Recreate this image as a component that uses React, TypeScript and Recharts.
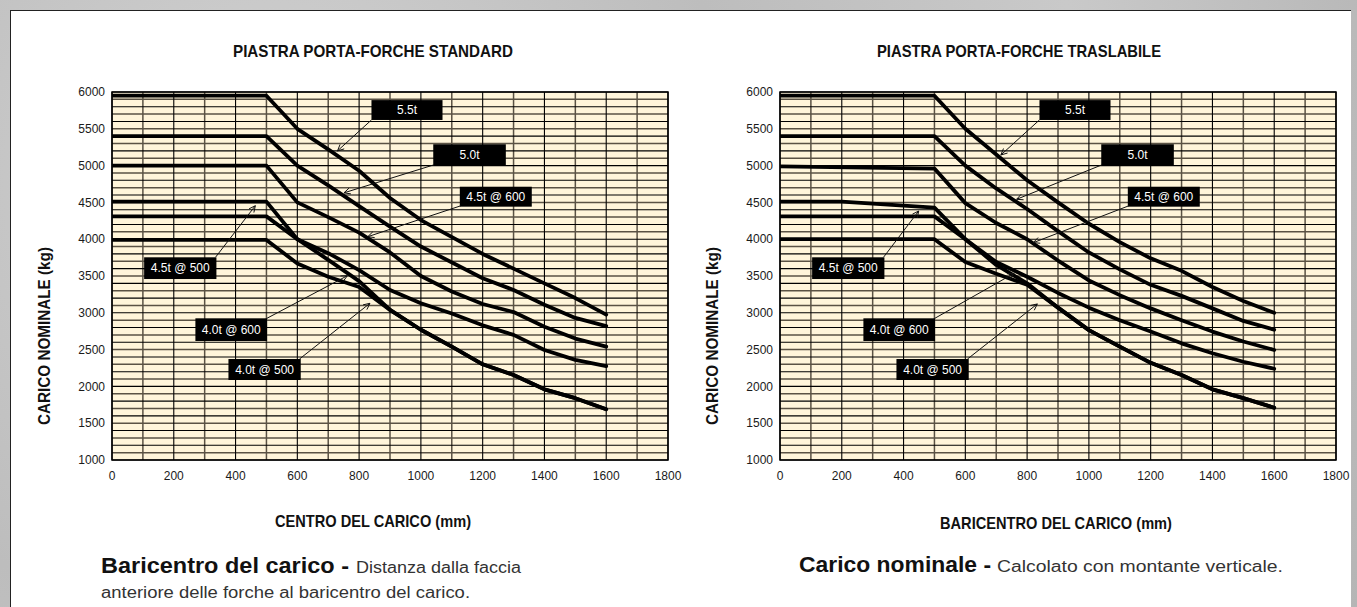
import React from 'react';
import { LineChart, Line, XAxis, YAxis, CartesianGrid, ReferenceArea, ReferenceLine } from 'recharts';

type Pt = { mm: number; kg: number };
const pts = (a: number[][]): Pt[] => a.map(([mm, kg]) => ({ mm, kg }));

// ---- axis ticks ----
const X_TICKS = [0, 200, 400, 600, 800, 1000, 1200, 1400, 1600, 1800];
const Y_TICKS = [1000, 1500, 2000, 2500, 3000, 3500, 4000, 4500, 5000, 5500, 6000];

// ---- PIASTRA PORTA-FORCHE STANDARD (left) ----
const STD_55 = pts([[0, 5950], [500, 5950], [600, 5500], [700, 5220], [800, 4930], [900, 4560], [1000, 4260], [1200, 3800], [1300, 3600], [1400, 3400], [1500, 3200], [1600, 2975]]);
const STD_50 = pts([[0, 5400], [500, 5400], [600, 5000], [700, 4730], [800, 4450], [900, 4170], [1000, 3900], [1200, 3470], [1300, 3310], [1400, 3110], [1500, 2930], [1600, 2820]]);
const STD_45_600 = pts([[0, 5000], [500, 5000], [600, 4500], [700, 4300], [800, 4090], [900, 3820], [1000, 3500], [1100, 3290], [1200, 3120], [1300, 3010], [1400, 2810], [1500, 2650], [1600, 2540]]);
const STD_45_500 = pts([[0, 4510], [500, 4510], [600, 4000], [700, 3810], [800, 3580], [900, 3310], [1000, 3130], [1100, 2990], [1200, 2830], [1300, 2700], [1400, 2495], [1500, 2360], [1600, 2275]]);
const STD_40_600 = pts([[0, 4310], [500, 4310], [600, 4000], [700, 3720], [800, 3430], [900, 3040], [1000, 2770], [1100, 2540], [1200, 2300], [1300, 2155], [1400, 1960], [1500, 1840], [1600, 1690]]);
const STD_40_500 = pts([[0, 3990], [500, 3990], [600, 3670], [700, 3490], [800, 3350], [900, 3040], [1000, 2770], [1100, 2540], [1200, 2300], [1300, 2155], [1400, 1960], [1500, 1840], [1600, 1690]]);

// ---- PIASTRA PORTA-FORCHE TRASLABILE (right) ----
const TR_55 = pts([[0, 5950], [500, 5950], [600, 5500], [700, 5150], [800, 4800], [900, 4500], [1000, 4210], [1100, 3960], [1200, 3740], [1300, 3570], [1400, 3350], [1500, 3160], [1600, 3000]]);
const TR_50 = pts([[0, 5400], [500, 5400], [600, 5000], [700, 4690], [800, 4410], [900, 4110], [1000, 3820], [1100, 3590], [1200, 3380], [1300, 3230], [1400, 3060], [1500, 2890], [1600, 2770]]);
const TR_45_600 = pts([[0, 4990], [500, 4960], [600, 4490], [700, 4220], [800, 4000], [900, 3710], [1000, 3440], [1100, 3240], [1200, 3060], [1300, 2900], [1400, 2745], [1500, 2610], [1600, 2495]]);
const TR_45_500 = pts([[0, 4510], [200, 4510], [500, 4430], [600, 4000], [700, 3690], [800, 3490], [900, 3270], [1000, 3070], [1100, 2900], [1200, 2745], [1300, 2585], [1400, 2450], [1500, 2335], [1600, 2240]]);
const TR_40_600 = pts([[0, 4310], [500, 4310], [600, 4000], [700, 3650], [800, 3400], [900, 3070], [1000, 2765], [1100, 2540], [1200, 2320], [1300, 2155], [1400, 1960], [1500, 1840], [1600, 1710]]);
const TR_40_500 = pts([[0, 4000], [500, 4000], [600, 3690], [700, 3530], [800, 3380], [900, 3070], [1000, 2765], [1100, 2540], [1200, 2320], [1300, 2155], [1400, 1960], [1500, 1840], [1600, 1710]]);

// ---- callout labels (data coordinates) ----
type Callout = { text: string; box: [number, number, number, number]; from: [number, number]; to: [number, number] };
const STD_CALLOUTS: Callout[] = [
  { text: '5.5t', box: [840, 1070, 5620, 5890], from: [840, 5620], to: [730, 5200] },
  { text: '5.0t', box: [1040, 1275, 5000, 5290], from: [1042, 5010], to: [751, 4630] },
  { text: '4.5t @ 600', box: [1126, 1359, 4442, 4713], from: [1130, 4455], to: [828, 4034] },
  { text: '4.5t @ 500', box: [104, 338, 3459, 3754], from: [335, 3754], to: [464, 4455] },
  { text: '4.0t @ 600', box: [270, 502, 2617, 2925], from: [497, 2915], to: [762, 3504] },
  { text: '4.0t @ 500', box: [377, 611, 2087, 2372], from: [607, 2372], to: [835, 3129] },
];
const TR_CALLOUTS: Callout[] = [
  { text: '5.5t', box: [840, 1070, 5620, 5890], from: [840, 5620], to: [715, 5144] },
  { text: '5.0t', box: [1040, 1275, 5000, 5290], from: [1042, 5010], to: [766, 4542] },
  { text: '4.5t @ 600', box: [1126, 1359, 4442, 4713], from: [1130, 4455], to: [820, 3953] },
  { text: '4.5t @ 500', box: [104, 338, 3459, 3754], from: [335, 3754], to: [449, 4383] },
  { text: '4.0t @ 600', box: [270, 502, 2617, 2925], from: [497, 2915], to: [758, 3537] },
  { text: '4.0t @ 500', box: [377, 611, 2087, 2372], from: [607, 2372], to: [833, 3120] },
];

// grid values (every 100 mm / 100 kg)
const GX_EVEN = Array.from({ length: 10 }, (_, i) => i * 200);
const GX_ODD = Array.from({ length: 9 }, (_, i) => 100 + i * 200);
const GY_EVEN = Array.from({ length: 26 }, (_, i) => 1000 + i * 200);
const GY_ODD = Array.from({ length: 25 }, (_, i) => 1100 + i * 200);

const FONT = "'Liberation Sans', Arial, Helvetica, sans-serif";

const ArrowShape = (p: any) => {
  const { x1, y1, x2, y2 } = p;
  if ([x1, y1, x2, y2].some((v) => typeof v !== 'number' || isNaN(v))) return <g />;
  const ang = Math.atan2(y2 - y1, x2 - x1);
  const L = 7;
  const a1 = ang + Math.PI - 0.45;
  const a2 = ang + Math.PI + 0.45;
  return (
    <g>
      <line x1={x1} y1={y1} x2={x2} y2={y2} stroke="#111" strokeWidth={1} />
      <polyline
        points={`${x2 + L * Math.cos(a1)},${y2 + L * Math.sin(a1)} ${x2},${y2} ${x2 + L * Math.cos(a2)},${y2 + L * Math.sin(a2)}`}
        fill="none"
        stroke="#111"
        strokeWidth={1}
      />
    </g>
  );
};

const BoxShape = (text: string) => (p: any) => {
  const { x, y, width, height } = p;
  return (
    <g>
      <rect x={x} y={y} width={width} height={height} fill="#000" />
      <text x={x + width / 2} y={y + height / 2 + 4} textAnchor="middle" fill="#fff" fontSize={12} fontFamily={FONT}>
        {text}
      </text>
    </g>
  );
};

type ChartProps = { series: Pt[][]; callouts: Callout[]; left: number; width: number; mLeft: number; mRight: number };

function CapacityChart({ series, callouts, left, width, mLeft, mRight }: ChartProps) {
  return (
    <div style={{ position: 'absolute', left, top: 0 }}>
      <LineChart width={width} height={500} margin={{ top: 92, right: mRight, bottom: 10, left: mLeft }}>
        <CartesianGrid
          fill="#FFF5DA"
          stroke="#5a5244"
          strokeWidth={1.5}
          horizontalValues={GY_ODD}
          verticalValues={GX_ODD}
        />
        <CartesianGrid
          stroke="#000"
          strokeWidth={1.1}
          horizontalValues={GY_EVEN}
          verticalValues={GX_EVEN}
        />
        <XAxis
          type="number"
          dataKey="mm"
          domain={[0, 1800]}
          ticks={X_TICKS}
          interval={0}
          height={30}
          axisLine={false}
          tickLine={false}
          tickSize={0}
          tickMargin={11}
          tick={{ fontSize: 12, fill: '#1a1a1a', fontFamily: FONT }}
          allowDataOverflow
        />
        <YAxis
          type="number"
          dataKey="kg"
          domain={[1000, 6000]}
          ticks={Y_TICKS}
          interval={0}
          width={60}
          axisLine={false}
          tickLine={false}
          tickSize={0}
          tickMargin={7}
          tick={{ fontSize: 12, fill: '#1a1a1a', fontFamily: FONT }}
          allowDataOverflow
        />
        <ReferenceArea x1={0} x2={1800} y1={1000} y2={6000} fill="none" stroke="#000" strokeWidth={1.5} fillOpacity={0} />
        {series.map((d, i) => (
          <Line
            key={i}
            data={d}
            dataKey="kg"
            type="linear"
            stroke="#000"
            strokeWidth={3.8}
            strokeLinejoin="round"
            strokeLinecap="round"
            dot={false}
            activeDot={false}
            isAnimationActive={false}
          />
        ))}
        {callouts.map((c, i) => (
          <ReferenceLine
            key={'a' + i}
            segment={[{ x: c.from[0], y: c.from[1] }, { x: c.to[0], y: c.to[1] }]}
            shape={ArrowShape}
            ifOverflow="visible"
          />
        ))}
        {callouts.map((c, i) => (
          <ReferenceArea
            key={'b' + i}
            x1={c.box[0]}
            x2={c.box[1]}
            y1={c.box[2]}
            y2={c.box[3]}
            shape={BoxShape(c.text)}
            ifOverflow="visible"
          />
        ))}
      </LineChart>
    </div>
  );
}

export default function App() {
  return (
    <div
      style={{
        position: 'relative',
        width: 1357,
        height: 607,
        overflow: 'hidden',
        background: 'radial-gradient(circle at 20% 30%, #d2d2d2 0%, #bdbdbd 40%, #c9c9c9 70%, #b5b5b5 100%)',
        fontFamily: FONT,
      }}
    >
      <style>{'body{margin:0}'}</style>
      <div
        style={{
          position: 'absolute',
          left: 10,
          top: 10,
          width: 1340,
          height: 600,
          background: '#fff',
          borderTop: '1px solid #222',
          borderLeft: '1px solid #222',
        }}
      />
      <CapacityChart
        series={[STD_55, STD_50, STD_45_600, STD_45_500, STD_40_600, STD_40_500]}
        callouts={STD_CALLOUTS}
        left={0}
        width={690}
        mLeft={52}
        mRight={22}
      />
      <CapacityChart
        series={[TR_55, TR_50, TR_45_600, TR_45_500, TR_40_600, TR_40_500]}
        callouts={TR_CALLOUTS}
        left={690}
        width={667}
        mLeft={30}
        mRight={21}
      />
      <svg width={1357} height={607} style={{ position: 'absolute', left: 0, top: 0, pointerEvents: 'none' }}>
        <g fontFamily={FONT} fill="#111">
          <text x={373} y={57} textAnchor="middle" fontWeight={700} fontSize={17} textLength={280} lengthAdjust="spacingAndGlyphs">
            PIASTRA PORTA-FORCHE  STANDARD
          </text>
          <text x={1019} y={57} textAnchor="middle" fontWeight={700} fontSize={17} textLength={284} lengthAdjust="spacingAndGlyphs">
            PIASTRA PORTA-FORCHE TRASLABILE
          </text>
          <text transform="translate(49.5,336) rotate(-90)" textAnchor="middle" fontWeight={700} fontSize={17} textLength={178} lengthAdjust="spacingAndGlyphs">
            CARICO NOMINALE (kg)
          </text>
          <text transform="translate(718,336) rotate(-90)" textAnchor="middle" fontWeight={700} fontSize={17} textLength={178} lengthAdjust="spacingAndGlyphs">
            CARICO NOMINALE (kg)
          </text>
          <text x={373} y={527} textAnchor="middle" fontWeight={700} fontSize={17} textLength={196} lengthAdjust="spacingAndGlyphs">
            CENTRO DEL CARICO (mm)
          </text>
          <text x={1056} y={529} textAnchor="middle" fontWeight={700} fontSize={17} textLength={232} lengthAdjust="spacingAndGlyphs">
            BARICENTRO DEL CARICO (mm)
          </text>
          <text x={101} y={573} fontWeight={700} fontSize={22} textLength={248} lengthAdjust="spacingAndGlyphs">
            Baricentro del carico -
          </text>
          <text x={356} y={573} fontSize={16} fill="#333" textLength={165} lengthAdjust="spacingAndGlyphs">
            Distanza dalla faccia
          </text>
          <text x={101} y={598} fontSize={16} fill="#333" textLength={369} lengthAdjust="spacingAndGlyphs">
            anteriore delle forche al baricentro del carico.
          </text>
          <text x={799} y={572} fontWeight={700} fontSize={22} textLength={192} lengthAdjust="spacingAndGlyphs">
            Carico nominale -
          </text>
          <text x={997} y={572} fontSize={16} fill="#333" textLength={286} lengthAdjust="spacingAndGlyphs">
            Calcolato con montante verticale.
          </text>
        </g>
      </svg>
    </div>
  );
}
